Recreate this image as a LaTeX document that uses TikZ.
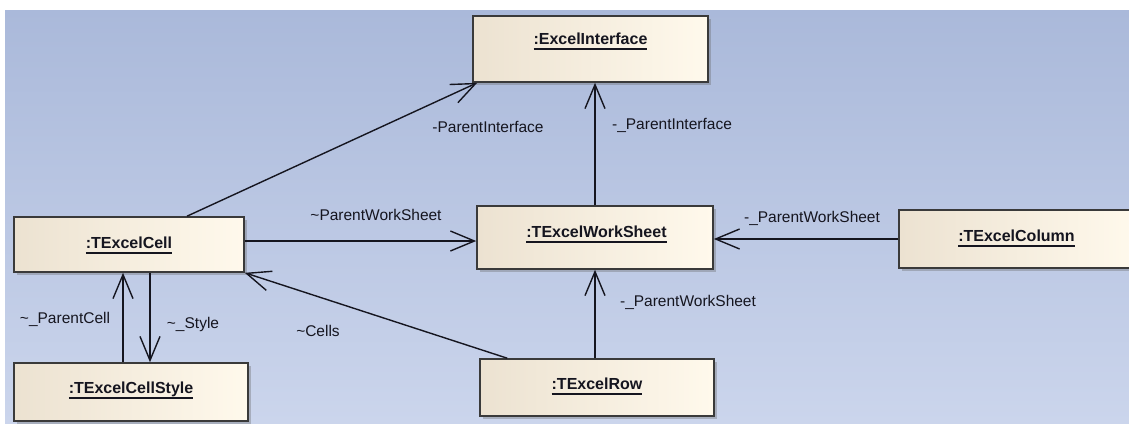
\documentclass[tikz,border=0pt]{standalone}
\usepackage{fontspec}
\setmainfont{Liberation Sans}
\usetikzlibrary{arrows.meta,shadows,calc}

\definecolor{bgtop}{HTML}{AAB9DA}
\definecolor{bgbot}{HTML}{CBD5EC}
\definecolor{boxl}{HTML}{ECE2D1}
\definecolor{boxr}{HTML}{FFF9EC}
\definecolor{edge}{HTML}{3A3A3A}
\definecolor{ink}{HTML}{15151F}

% underlined object name
\newcommand\objname[1]{\setbox0\hbox{#1}\rlap{\vrule width\wd0 height -3.6pt depth 5.6pt}\box0}

\begin{document}
\begin{tikzpicture}[x=1pt,y=-1pt,
  objbox/.style={draw=edge, line width=1.6pt, left color=boxl, right color=boxr,
    drop shadow={shadow xshift=3pt, shadow yshift=-3pt, opacity=0.35, fill=black!60},
    inner sep=0pt, minimum width=235pt},
  title/.style={font=\fontsize{16}{19}\selectfont\bfseries, text=ink, anchor=base, inner sep=0pt},
  lbl/.style={font=\fontsize{15.5}{18}\selectfont, text=ink, inner sep=0pt},
  assoc/.style={draw=ink, line width=1.4pt,
    -{Straight Barb[length=24pt,width=20pt,line width=1.4pt]}},
]
\useasboundingbox (0,0) rectangle (1129,423);
\clip (0,0) rectangle (1129,423);
\fill[white] (0,0) rectangle (1129,423);
\shade[top color=bgtop, bottom color=bgbot] (5,10) rectangle (1129,423);

% objects
\node[objbox, minimum width=235pt, minimum height=66pt] (ei)    at (590.5,49)  {};
\node[objbox, minimum width=230pt, minimum height=55pt] (cell)  at (129,244.5) {};
\node[objbox, minimum width=234pt, minimum height=58pt] (style) at (131,392)   {};
\node[objbox, minimum width=236pt, minimum height=63pt] (ws)    at (595,237.5) {};
\node[objbox, minimum width=234pt, minimum height=57pt] (row)   at (597,387.5) {};
\node[objbox, minimum width=235pt, minimum height=58pt] (col)   at (1016.5,239) {};

% object names
\node[title] (ei-t)    at ($(ei.center)+(0,-5)$)     {\objname{:ExcelInterface}};
\node[title] (cell-t)  at ($(cell.center)+(0,3.5)$)  {\objname{:TExcelCell}};
\node[title] (style-t) at ($(style.center)+(0,1)$)   {\objname{:TExcelCellStyle}};
\node[title] (ws-t)    at ($(ws.center)+(1.5,0)$)    {\objname{:TExcelWorkSheet}};
\node[title] (row-t)   at ($(row.center)+(0,1.5)$)   {\objname{:TExcelRow}};
\node[title] (col-t)   at ($(col.center)+(0,2)$)     {\objname{:TExcelColumn}};

% connector end points on the box edges
\coordinate (cellTop)   at ([xshift=58pt]cell.north);
\coordinate (eiCorner)  at ([xshift=5pt]ei.south west);
\coordinate (cellRight) at ([yshift=3.5pt]cell.east);
\coordinate (rowTop)    at ([xshift=28pt]row.north west);
\coordinate (pcell)     at ([xshift=-6pt]cell.south);
\coordinate (pstyle)    at ([xshift=21pt]cell.south);

% associations
\draw[assoc] (cellTop) -- (eiCorner);
\draw[assoc] (ws.north) -- (ws.north |- ei.south);
\draw[assoc] (cellRight) -- (cellRight -| ws.west);
\draw[assoc] (col.west) -- (col.west -| ws.east);
\draw[assoc] (ws.south |- row.north) -- (ws.south);
\draw[assoc] (rowTop) -- (cell.south east);
\draw[assoc] (pcell |- style.north) -- (pcell);
\draw[assoc] (pstyle) -- (pstyle |- style.north);

% role names
\node[lbl] (l1) at (488,127) {-ParentInterface};
\node[lbl] (l2) at (672,125) {-\_ParentInterface};
\node[lbl] (l3) at (376,215) {\textasciitilde ParentWorkSheet};
\node[lbl] (l4) at (812,218) {-\_ParentWorkSheet};
\node[lbl] (l5) at (688,302) {-\_ParentWorkSheet};
\node[lbl] (l6) at (318,331) {\textasciitilde Cells};
\node[lbl] (l7) at (65,319)  {\textasciitilde\_ParentCell};
\node[lbl] (l8) at (193,324) {\textasciitilde\_Style};
\end{tikzpicture}
\end{document}
